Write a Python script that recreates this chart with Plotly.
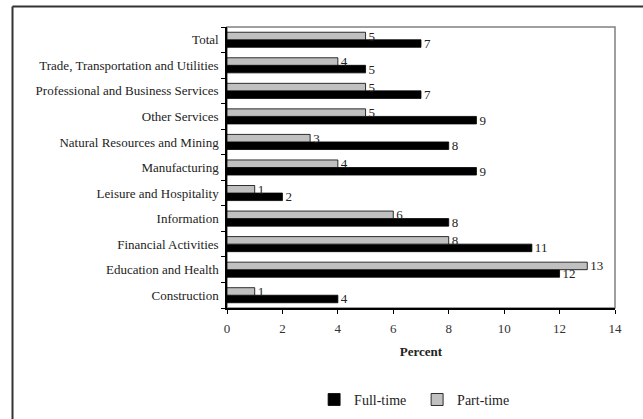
import plotly.graph_objects as go

categories = ["Construction", "Education and Health", "Financial Activities", "Information",
              "Leisure and Hospitality", "Manufacturing", "Natural Resources and Mining",
              "Other Services", "Professional and Business Services",
              "Trade, Transportation and Utilities", "Total"]
full_time = [4, 12, 11, 8, 2, 9, 8, 9, 7, 5, 7]
part_time = [1, 13, 8, 6, 1, 4, 3, 5, 5, 4, 5]
x_ticks = [0, 2, 4, 6, 8, 10, 12, 14]

FONT = "Liberation Serif"

fig = go.Figure()
fig.add_trace(go.Bar(
    y=categories, x=full_time, orientation="h", name="Full-time",
    marker=dict(color="#000000", line=dict(color="#000000", width=0.8)),
    text=full_time, textposition="outside", cliponaxis=False, constraintext="none",
    textfont=dict(family=FONT, size=13, color="#222"),
))
fig.add_trace(go.Bar(
    y=categories, x=part_time, orientation="h", name="Part-time",
    marker=dict(color="#c0c0c0", line=dict(color="#000000", width=0.8)),
    text=part_time, textposition="outside", cliponaxis=False, constraintext="none",
    textfont=dict(family=FONT, size=13, color="#222"),
))

W, H = 643, 419
L, R, T, B = 227, 615, 27, 308

fig.update_layout(
    width=W, height=H,
    margin=dict(l=L, r=W - R, t=T, b=H - B, autoexpand=False),
    paper_bgcolor="white", plot_bgcolor="white",
    barmode="group", bargap=0.41, bargroupgap=0,
    font=dict(family=FONT, size=13, color="#222"),
    showlegend=True,
    legend=dict(orientation="h", x=0.49, xanchor="center", y=-0.327, yanchor="middle",
                font=dict(family=FONT, size=14, color="#222"), traceorder="normal",
                itemwidth=30, tracegroupgap=0, entrywidth=58),
    xaxis=dict(range=[0, 14], tickvals=x_ticks, ticks="outside", ticklen=4,
               tickcolor="#000", showline=True, linecolor="#000", linewidth=1.5,
               showgrid=False, zeroline=False, automargin=False, ticklabelstandoff=4,
               tickfont=dict(family=FONT, size=13, color="#333"),
               title=dict(text="<b>Percent</b>", font=dict(family=FONT, size=13, color="#222"),
                          standoff=12)),
    yaxis=dict(type="category", categoryorder="array", categoryarray=categories,
               ticks="outside", tickson="boundaries", ticklen=4, tickcolor="#000",
               showline=True, linecolor="#000", linewidth=1.5, showgrid=False,
               automargin=False,
               tickfont=dict(family=FONT, size=13, color="#222"), ticklabelstandoff=4),
    shapes=[
        dict(type="rect", xref="paper", yref="paper", x0=0, x1=1, y0=0, y1=1,
             line=dict(color="#808080", width=1.5), layer="below"),
        dict(type="line", xref="paper", yref="paper",
             x0=(12.5 - L) / (R - L), x1=(W - L) / (R - L),
             y0=(B - 6.5) / (B - T), y1=(B - 6.5) / (B - T),
             line=dict(color="#333", width=2)),
        dict(type="line", xref="paper", yref="paper",
             x0=(12.5 - L) / (R - L), x1=(12.5 - L) / (R - L),
             y0=(B - 6.5) / (B - T), y1=(B - H) / (B - T),
             line=dict(color="#333", width=2)),
    ],
)

fig.write_html("out.html", config={"displayModeBar": False},
               post_script="document.body.style.margin='0';document.body.style.overflow='hidden';")
